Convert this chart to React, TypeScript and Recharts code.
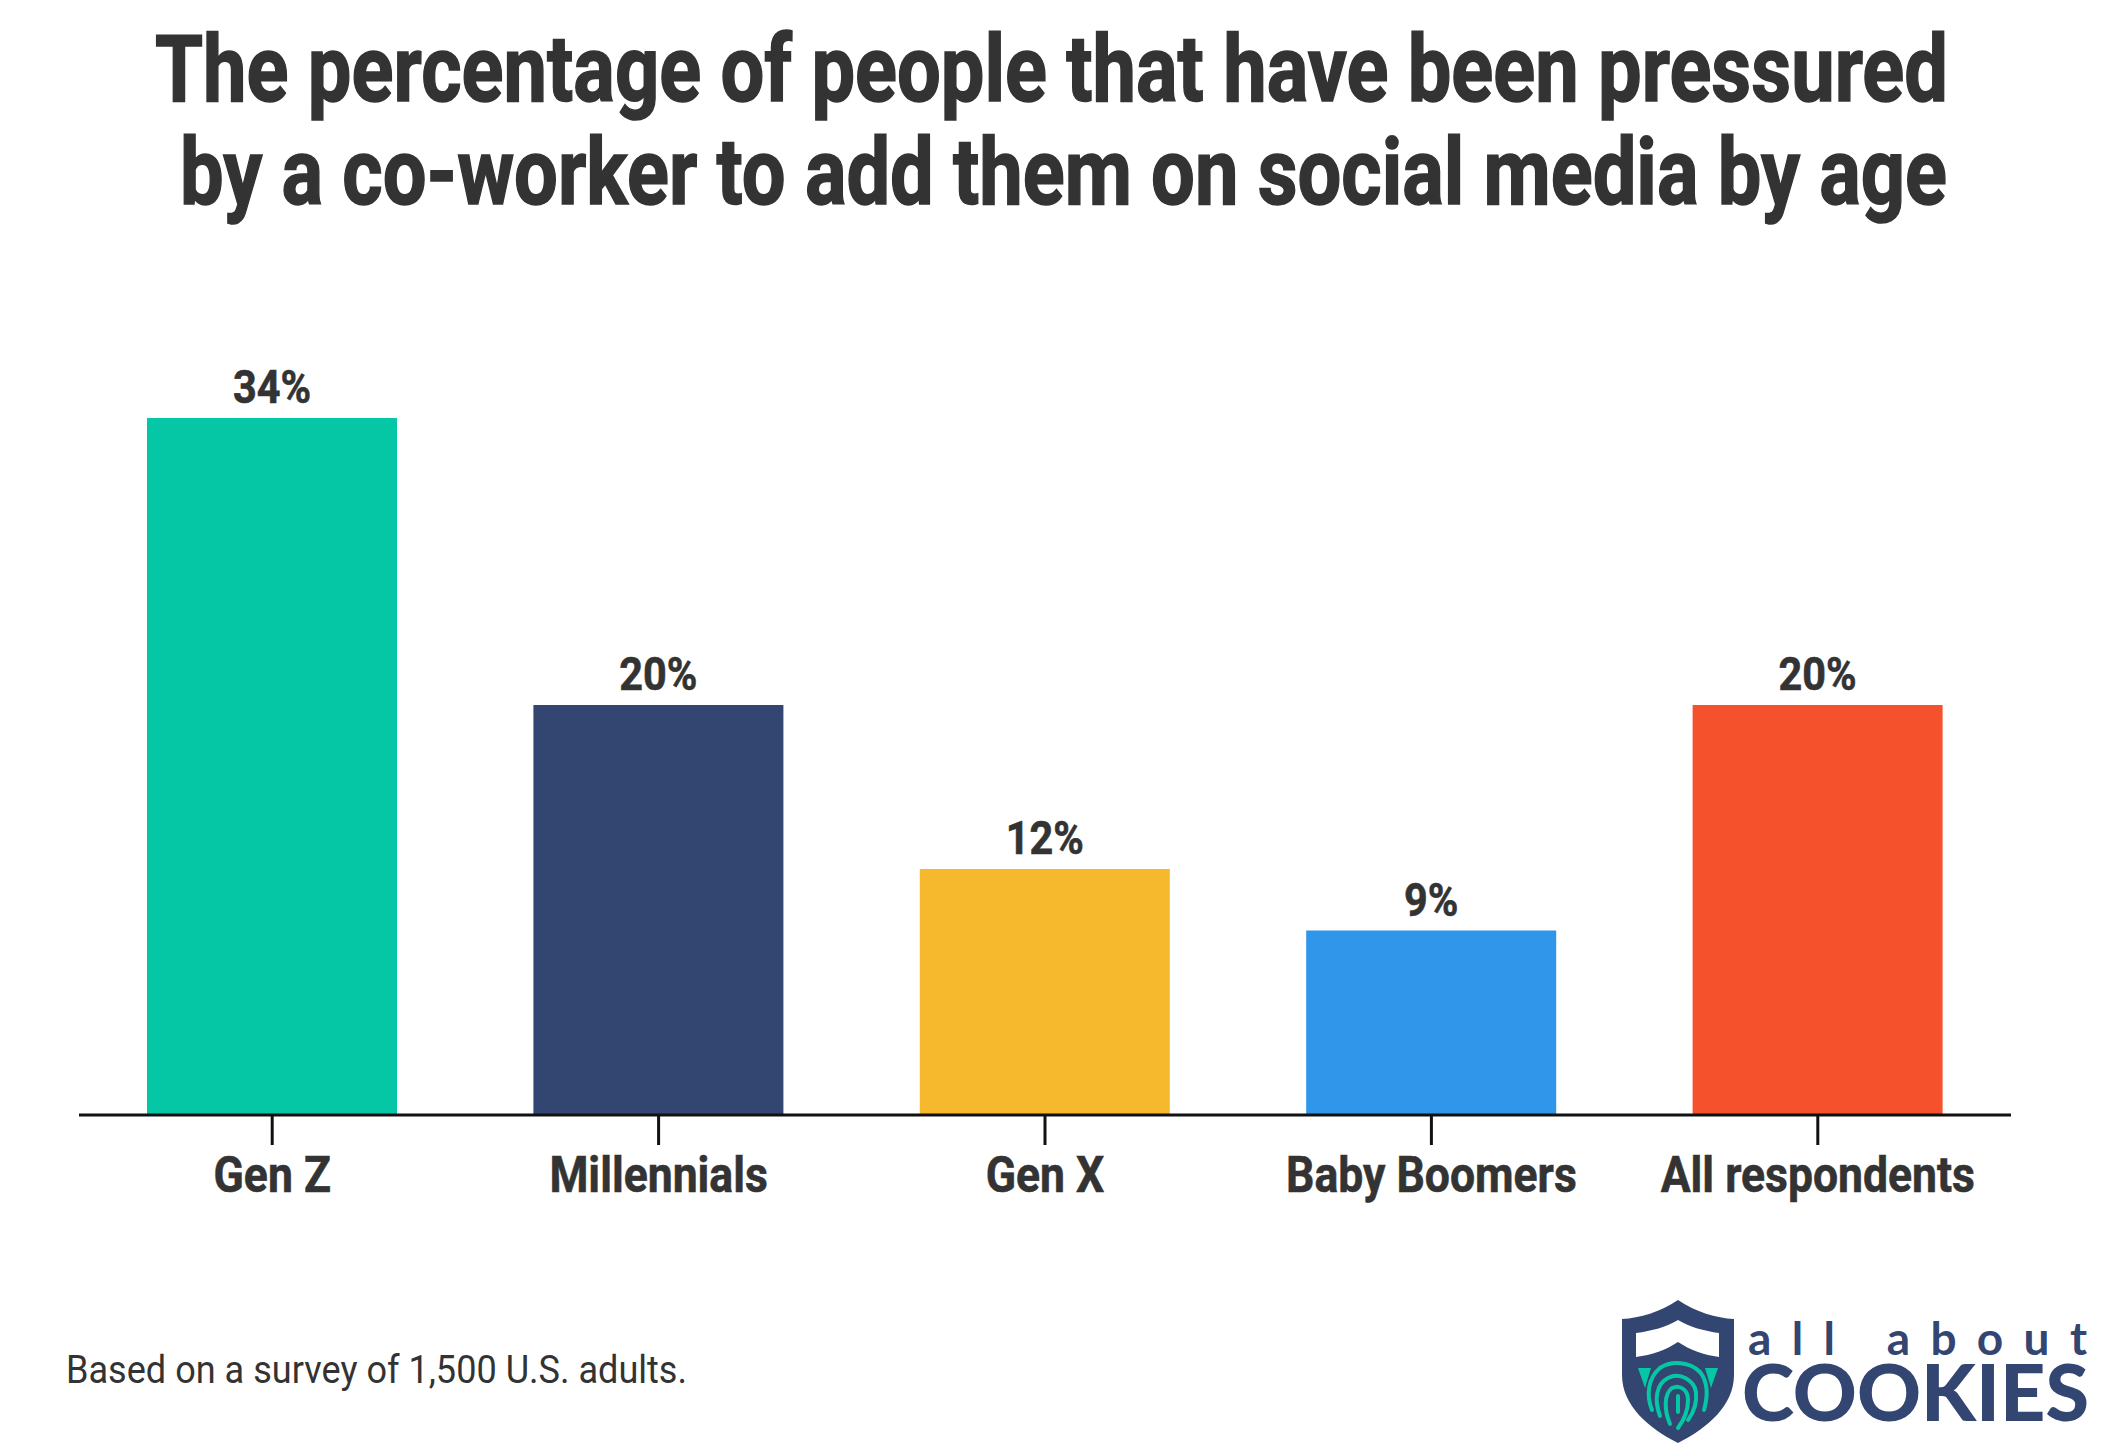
import { Bar, BarChart, Cell, LabelList, XAxis, YAxis } from "recharts";

const categories = ["Gen Z", "Millennials", "Gen X", "Baby Boomers", "All respondents"];
const shares = [34, 20, 12, 9, 20];
const barColors = ["#05C7A5", "#334571", "#F6B92D", "#2F96E9", "#F5512D"];

const titleLines = [
  "The percentage of people that have been pressured",
  "by a co-worker to add them on social media by age",
];
const footnote = "Based on a survey of 1,500 U.S. adults.";

const data = categories.map((name, i) => ({ name, value: shares[i] }));

const TEXT = "#333333";
const NAVY = "#334571";
const TEAL = "#05C7A5";
const SQUEEZE = 0.83;

function CategoryTick({ x, y, payload }: any) {
  return (
    <text
      transform={`translate(${x},${y + 45}) scale(0.89,1)`}
      textAnchor="middle"
      fontFamily="Roboto"
      fontWeight={700}
      fontSize={50}
      fill={TEXT}
      stroke={TEXT}
      strokeWidth={0.6}
    >
      {payload.value}
    </text>
  );
}

function ValueLabel({ x, y, width, value }: any) {
  return (
    <text
      transform={`translate(${x + width / 2},${y - 15}) scale(0.9,1)`}
      textAnchor="middle"
      fontFamily="Roboto"
      fontWeight={700}
      fontSize={46}
      fill={TEXT}
      stroke={TEXT}
      strokeWidth={0.6}
    >
      {value}%
    </text>
  );
}

function TitleLine({ cx, y, width, children }: any) {
  return (
    <text
      transform={`translate(${cx},${y}) scale(${SQUEEZE},1)`}
      textAnchor="middle"
      fontFamily="Roboto"
      fontWeight={700}
      fontSize={93}
      fill={TEXT}
      stroke={TEXT}
      strokeWidth={1.5}
      textLength={width / SQUEEZE}
      lengthAdjust="spacingAndGlyphs"
    >
      {children}
    </text>
  );
}

function Logo() {
  return (
    <g>
      <path
        d="M1678,1300 C1660,1312 1640,1318 1622,1319 L1622,1375 C1622,1405 1648,1428 1678,1443 C1708,1428 1734,1405 1734,1375 L1734,1319 C1716,1318 1696,1312 1678,1300 Z"
        fill={NAVY}
      />
      <path
        d="M1636,1333 C1652,1331 1666,1327 1678,1320 C1690,1327 1704,1331 1719,1333 L1719,1357 C1704,1355 1690,1350 1678,1342 C1666,1350 1652,1355 1636,1357 Z"
        fill="#ffffff"
      />
      <path d="M1638,1368 L1651,1368 L1645,1388 Z" fill={TEAL} />
      <path d="M1718,1368 L1705,1368 L1711,1388 Z" fill={TEAL} />
      <g fill="none" stroke={TEAL} strokeWidth={4} strokeLinecap="round">
        <path d="M1652,1410 C1646,1395 1648,1378 1660,1368 C1672,1360 1690,1362 1700,1372 C1708,1382 1708,1396 1704,1410" />
        <path d="M1660,1416 C1654,1400 1656,1384 1668,1378 C1680,1372 1694,1380 1696,1392 C1697,1402 1694,1412 1688,1420" />
        <path d="M1670,1424 C1664,1410 1664,1394 1672,1388 C1680,1384 1688,1390 1688,1400 C1688,1410 1684,1420 1678,1428" />
        <path d="M1678,1396 L1678,1412" />
      </g>
      <text
        x={1748}
        y={1355}
        fontFamily="Lato"
        fontWeight={700}
        fontSize={46}
        fill={NAVY}
        textLength={339}
        lengthAdjust="spacing"
      >
        all about
      </text>
      <text
        x={1742}
        y={1421}
        fontFamily="Lato"
        fontWeight={900}
        fontSize={78}
        fill={NAVY}
        textLength={347}
        lengthAdjust="spacingAndGlyphs"
      >
        COOKIES
      </text>
    </g>
  );
}

export default function App() {
  return (
    <div
      style={{
        position: "absolute",
        left: 0,
        top: 0,
        width: 2125,
        height: 1453,
        background: "#ffffff",
        overflow: "hidden",
      }}
    >
      <svg
        width={2125}
        height={1453}
        style={{ position: "absolute", left: 0, top: 0 }}
      >
        <TitleLine cx={1051.5} y={101} width={1793}>
          {titleLines[0]}
        </TitleLine>
        <TitleLine cx={1063.5} y={204} width={1767}>
          {titleLines[1]}
        </TitleLine>
        <text
          x={66}
          y={1383}
          fontFamily="Roboto"
          fontSize={39}
          fill={TEXT}
          textLength={621}
          lengthAdjust="spacingAndGlyphs"
        >
          {footnote}
        </text>
        <Logo />
      </svg>
      <div style={{ position: "absolute", left: 0, top: 0 }}>
        <BarChart
          width={2125}
          height={1453}
          data={data}
          margin={{ top: 295, right: 114, left: 79, bottom: 238 }}
          barCategoryGap="17.6%"
        >
          <YAxis hide domain={[0, 40]} />
          <XAxis
            dataKey="name"
            height={100}
            interval={0}
            tickSize={30}
            axisLine={{ stroke: "#111111", strokeWidth: 3 }}
            tickLine={{ stroke: "#111111", strokeWidth: 3 }}
            tick={<CategoryTick />}
          />
          <Bar dataKey="value" isAnimationActive={false}>
            {data.map((d, i) => (
              <Cell key={d.name} fill={barColors[i]} />
            ))}
            <LabelList dataKey="value" content={<ValueLabel />} />
          </Bar>
        </BarChart>
      </div>
    </div>
  );
}
